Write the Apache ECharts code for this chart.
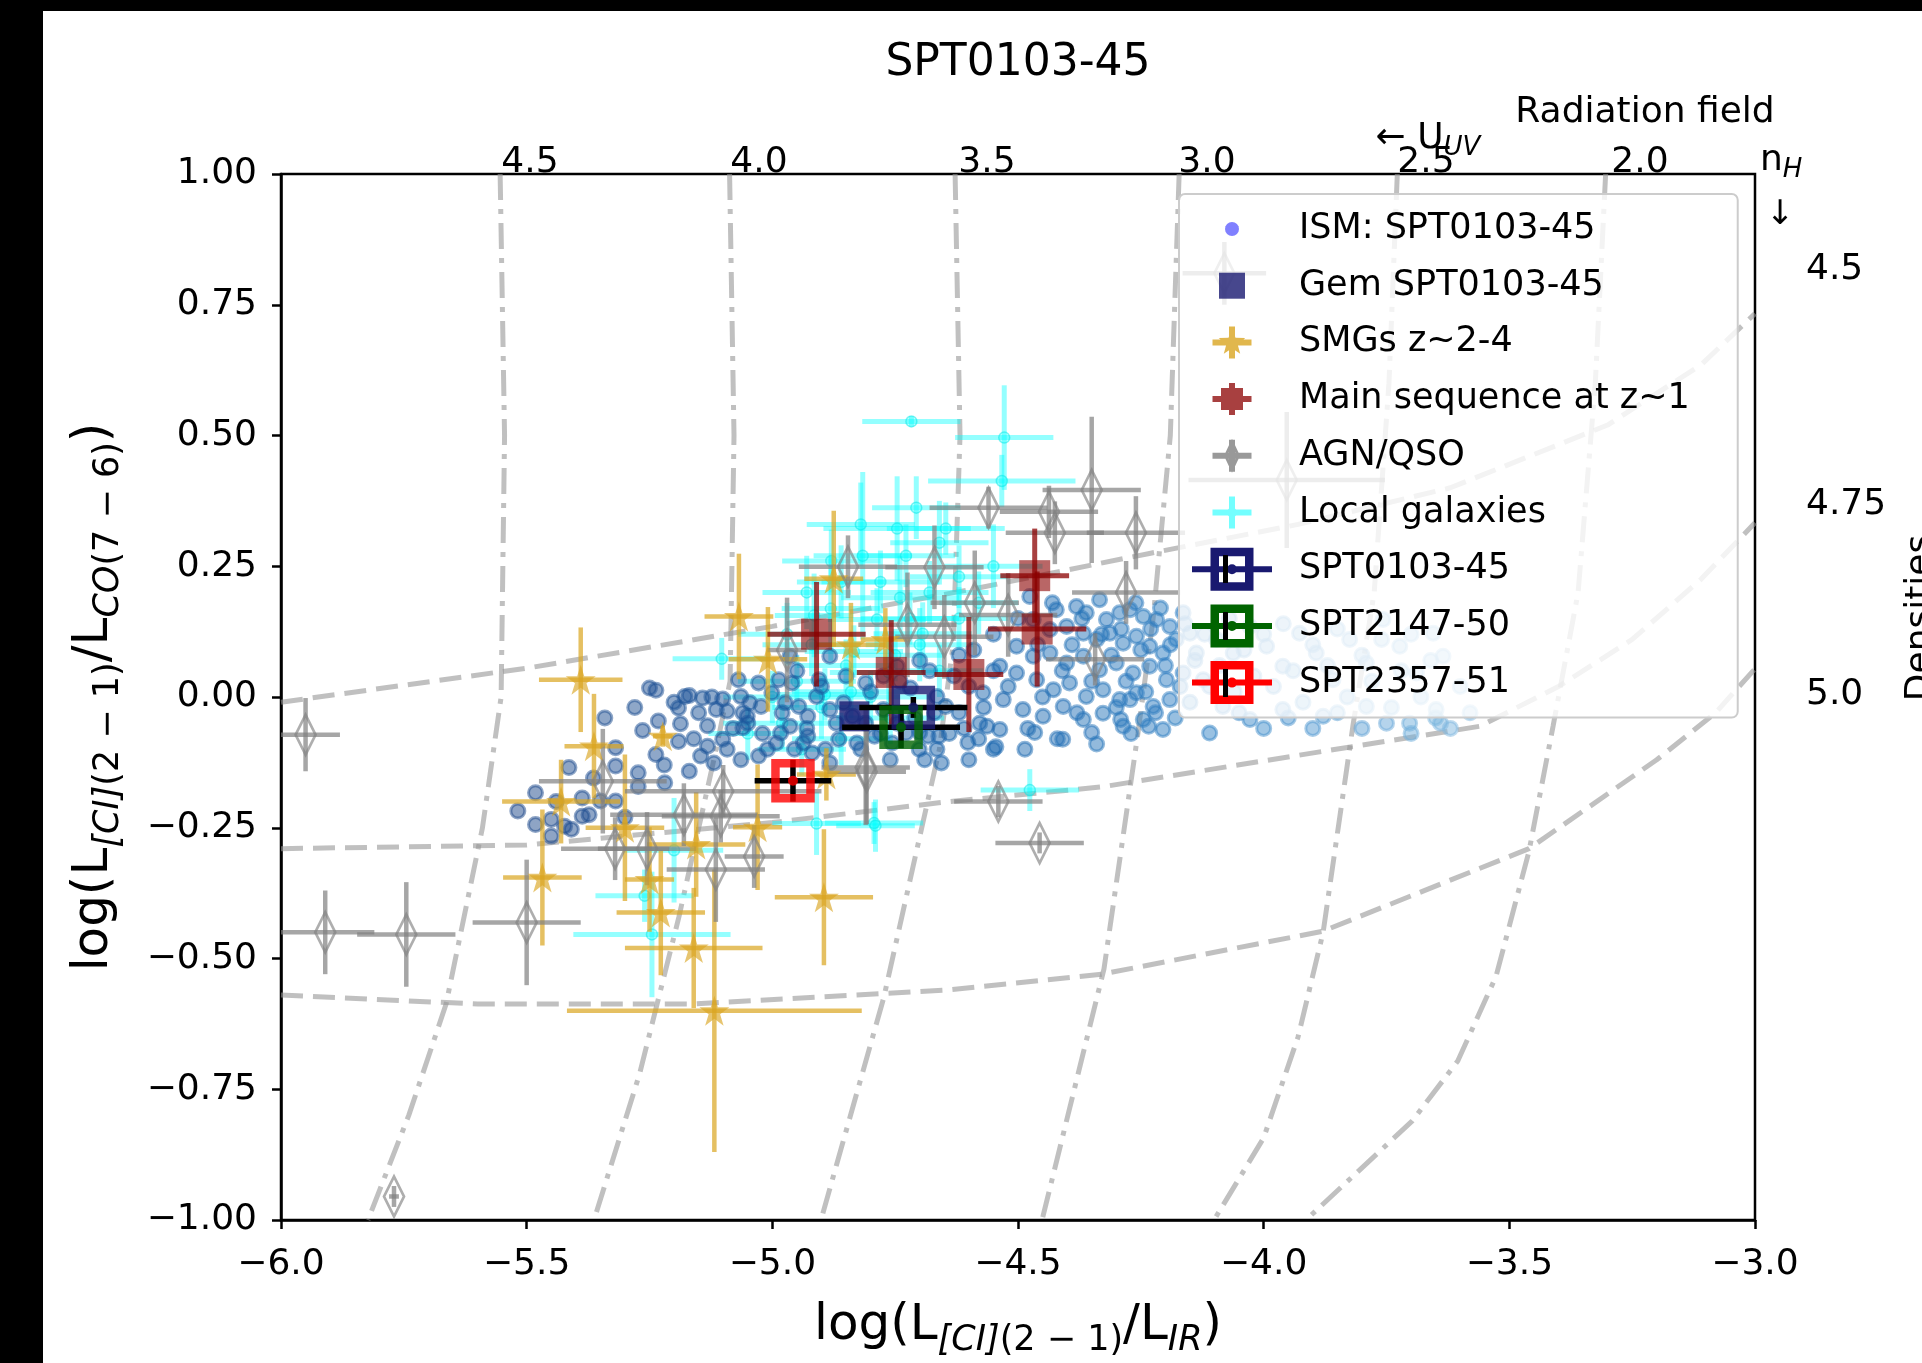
<!DOCTYPE html>
<html>
<head>
<meta charset="utf-8">
<script src="https://cdn.jsdelivr.net/npm/echarts@6.0.0/dist/echarts.min.js"></script>
<style>
html, body { margin: 0; padding: 0; background: #000; }
#main { width: 1922px; height: 1363px; }
</style>
</head>
<body>
<div id="main"></div>
<script>
// ---- model grid (constant U_UV: dash-dot, constant n_H: dashed) ----
var uv45 = [[-5.554, 1], [-5.545, 0.5], [-5.552, 0.0], [-5.59, -0.25], [-5.664, -0.587], [-5.74, -0.8], [-5.823, -1]];
var uv40 = [[-5.087, 1], [-5.078, 0.5], [-5.086, 0.03], [-5.119, -0.12], [-5.19, -0.42], [-5.27, -0.72], [-5.363, -1]];
var uv35 = [[-4.628, 1], [-4.618, 0.5], [-4.632, 0.1], [-4.66, -0.1], [-4.70, -0.267], [-4.773, -0.574], [-4.901, -1]];
var uv30 = [[-4.172, 1], [-4.19, 0.5], [-4.225, 0.15], [-4.256, -0.07], [-4.325, -0.52], [-4.451, -1]];
var uv25 = [[-3.728, 1], [-3.745, 0.6], [-3.775, 0.2], [-3.818, -0.053], [-3.879, -0.45], [-3.93, -0.65], [-4.0, -0.843], [-4.101, -1]];
var uv20 = [[-3.304, 1], [-3.325, 0.6], [-3.36, 0.2], [-3.411, -0.056], [-3.46, -0.295], [-3.527, -0.534], [-3.605, -0.696], [-3.698, -0.811], [-3.914, -1]];
var nh45 = [[-6, -0.01], [-5.5, 0.055], [-5.0, 0.135], [-4.6, 0.205], [-4.23, 0.275], [-3.93, 0.33], [-3.62, 0.40], [-3.3, 0.52], [-3.11, 0.635], [-3.0, 0.733]];
var nh475 = [[-6, -0.29], [-5.5, -0.283], [-5.0, -0.24], [-4.64, -0.2], [-4.33, -0.172], [-3.82, -0.095], [-3.56, -0.056], [-3.4, 0.02], [-3.25, 0.11], [-3.11, 0.225], [-3.0, 0.333]];
var nh50 = [[-6, -0.57], [-5.6, -0.587], [-5.16, -0.587], [-4.64, -0.56], [-4.33, -0.53], [-3.88, -0.448], [-3.46, -0.29], [-3.2, -0.12], [-3.08, -0.03], [-3.0, 0.054]];

// ---- ISM clumps of SPT0103-45: [x, y] ----
var ismPoints = [
  [-5.250, 0.017], [-5.237, 0.013], [-5.178, 0.001], [-5.169, 0.003], [-5.191, -0.021], [-5.142, -0.002], [-5.123, 0.000], [-5.101, -0.004], [-5.069, 0.033], [-5.341, -0.040],
  [-5.232, -0.046], [-5.264, -0.064], [-5.187, -0.051], [-5.132, -0.055], [-5.114, -0.024], [-5.092, -0.027], [-5.060, -0.030], [-5.060, -0.059], [-5.051, -0.037], [-5.191, -0.085],
  [-5.237, -0.110], [-5.319, -0.097], [-5.319, -0.132], [-5.273, -0.145], [-5.414, -0.135], [-5.364, -0.155], [-5.219, -0.164], [-5.169, -0.142], [-5.146, -0.113], [-5.132, -0.094],
  [-5.119, -0.126], [-5.101, -0.081], [-5.092, -0.100], [-5.064, -0.120], [-5.046, -0.011], [-5.023, -0.018], [-5.482, -0.183], [-5.518, -0.218], [-5.482, -0.244], [-5.450, -0.234],
  [-5.450, -0.266], [-5.423, -0.247], [-5.409, -0.253], [-5.387, -0.193], [-5.387, -0.228], [-5.373, -0.225], [-5.350, -0.199], [-5.319, -0.199], [-5.273, -0.171], [-5.028, -0.113],
  [-5.010, -0.100], [-4.992, -0.088], [-4.983, -0.069], [-4.964, -0.056], [-4.955, -0.100], [-4.937, -0.088], [-4.928, -0.075], [-4.919, -0.107], [-4.892, -0.100], [-4.883, -0.126],
  [-4.964, 0.078], [-4.960, 0.027], [-4.987, 0.033], [-4.905, 0.033], [-4.946, -0.018], [-4.928, -0.037], [-4.883, -0.024], [-4.855, -0.011], [-4.837, -0.037], [-4.810, -0.050],
  [-4.774, -0.024], [-4.746, -0.050], [-4.728, -0.069], [-4.683, -0.075], [-4.665, -0.100], [-4.656, -0.126], [-4.701, -0.100], [-4.756, -0.088], [-4.792, -0.075], [-4.828, -0.088],
  [-4.865, -0.081], [-5.064, 0.001], [-5.028, 0.027], [-5.001, 0.008], [-4.974, -0.011], [-4.910, 0.001], [-4.883, 0.078], [-4.746, 0.059], [-4.774, 0.040], [-4.810, 0.027],
  [-4.665, 0.001], [-4.647, -0.018], [-4.719, 0.017],
  [-4.62, -0.03], [-4.60, 0.02], [-4.58, -0.08], [-4.55, 0.05], [-4.62, 0.08], [-4.68, 0.05], [-4.60, -0.12], [-4.55, -0.10],
  [-4.98, -0.03], [-4.95, 0.05], [-4.93, -0.06], [-4.90, 0.02], [-4.87, -0.05], [-4.85, 0.04], [-4.82, -0.10], [-4.80, 0.01], [-4.78, -0.07], [-4.76, -0.12],
  [-4.74, 0.03], [-4.71, -0.04], [-4.69, -0.12], [-4.67, -0.03], [-4.64, -0.07], [-4.63, 0.04], [-4.61, -0.06], [-4.59, 0.09], [-4.57, -0.02], [-4.70, 0.07],
  [-5.05, -0.05], [-5.08, -0.06], [-5.02, -0.07], [-5.15, -0.03], [-5.20, -0.01], [-5.28, -0.02], [-5.22, -0.13], [-5.16, -0.08], [-5.30, -0.23], [-5.44, -0.20],
  [-4.476, 0.192], [-4.422, 0.167], [-4.381, 0.173], [-4.361, 0.161], [-4.334, 0.186], [-4.320, 0.148], [-4.293, 0.161], [-4.272, 0.167], [-4.245, 0.154], [-4.218, 0.148],
  [-4.191, 0.135], [-4.164, 0.161], [-4.469, 0.148], [-4.435, 0.129], [-4.401, 0.135], [-4.367, 0.122], [-4.340, 0.110], [-4.313, 0.122], [-4.286, 0.103], [-4.259, 0.116],
  [-4.232, 0.097], [-4.205, 0.084], [-4.178, 0.110], [-4.503, 0.097], [-4.469, 0.078], [-4.435, 0.084], [-4.401, 0.065], [-4.367, 0.078], [-4.334, 0.052], [-4.300, 0.065],
  [-4.266, 0.046], [-4.232, 0.059], [-4.198, 0.033], [-4.164, 0.046], [-4.537, 0.059], [-4.503, 0.046], [-4.462, 0.033], [-4.428, 0.014], [-4.395, 0.027], [-4.361, 0.001],
  [-4.327, 0.014], [-4.293, -0.005], [-4.259, 0.008], [-4.225, -0.018], [-4.191, -0.005], [-4.571, 0.008], [-4.530, -0.005], [-4.490, -0.024], [-4.449, -0.037], [-4.408, -0.018],
  [-4.367, -0.043], [-4.327, -0.031], [-4.286, -0.056], [-4.245, -0.043], [-4.205, -0.062], [-4.578, -0.050], [-4.537, -0.062],
  [-4.545, -0.095], [-4.486, -0.100], [-4.466, -0.068], [-4.409, -0.081], [-4.350, -0.068], [-4.602, -0.087], [-4.661, -0.075], [-4.700, -0.068], [-4.563, -0.056], [-4.291, -0.043],
  [-4.234, -0.056], [-4.272, -0.005],
  [-4.55, 0.12], [-4.52, 0.02], [-4.50, 0.15], [-4.48, -0.06], [-4.46, 0.10], [-4.45, 0.00], [-4.43, 0.18], [-4.42, -0.08], [-4.41, 0.05], [-4.39, 0.10],
  [-4.38, -0.03], [-4.37, 0.15], [-4.35, 0.03], [-4.34, -0.09], [-4.33, 0.12], [-4.31, 0.08], [-4.30, -0.02], [-4.29, 0.13], [-4.28, 0.03], [-4.27, -0.07],
  [-4.26, 0.18], [-4.25, 0.09], [-4.24, 0.01], [-4.23, 0.13], [-4.22, -0.03], [-4.21, 0.17], [-4.20, 0.06], [-4.19, 0.10], [-4.18, -0.04], [-4.17, 0.02],
  [-4.16, 0.14], [-4.15, -0.01], [-4.14, 0.07], [-4.12, 0.12], [-4.11, 0.02], [-4.09, 0.06], [-4.07, 0.15], [-4.06, 0.01], [-4.04, 0.09], [-4.02, 0.04],
  [-4.150, 0.122], [-4.137, 0.084], [-4.123, 0.033], [-4.096, 0.110], [-4.062, 0.084], [-4.028, 0.135], [-3.994, 0.097], [-3.961, 0.059], [-3.927, 0.122], [-3.893, 0.084],
  [-3.859, 0.033], [-3.825, 0.110], [-3.791, 0.065], [-3.757, 0.148], [-3.723, 0.097], [-3.689, 0.046], [-3.655, 0.122], [-3.635, 0.078], [-4.083, -0.018], [-4.028, -0.043],
  [-3.961, -0.024], [-3.879, -0.037], [-3.791, -0.018], [-3.703, -0.050], [-3.649, -0.024], [-4.110, -0.069],
  [-4.00, 0.12], [-3.98, 0.02], [-3.96, 0.14], [-3.94, 0.05], [-3.92, -0.01], [-3.90, 0.10], [-3.87, 0.06], [-3.85, 0.13], [-3.83, 0.00], [-3.80, 0.08],
  [-3.78, 0.03], [-3.76, 0.11], [-3.74, -0.02], [-3.72, 0.05], [-3.70, 0.12], [-3.68, 0.00], [-3.66, 0.07], [-3.64, -0.05], [-3.60, 0.02], [-3.58, -0.03],
  [-3.95, -0.04], [-3.90, -0.06], [-3.85, -0.03], [-3.80, -0.06], [-3.75, -0.05], [-3.70, -0.07], [-3.65, -0.04], [-3.62, -0.06], [-4.00, -0.06], [-4.05, -0.03]
];

// ---- comparison samples: [x, y, xerr, yerr] ----
var gemPoints = [[-4.833, -0.037]];
var smgPoints = [
  [-5.39, 0.033, 0.085, 0.10], [-5.363, -0.094, 0.06, 0.10], [-5.223, -0.075, 0.02, 0.02], [-5.43, -0.20, 0.12, 0.08],
  [-5.30, -0.25, 0.08, 0.14], [-5.468, -0.345, 0.08, 0.13], [-5.155, -0.282, 0.10, 0.10], [-5.03, -0.249, 0.05, 0.12],
  [-5.25, -0.349, 0.05, 0.10], [-5.227, -0.412, 0.09, 0.12], [-4.895, -0.383, 0.10, 0.13], [-4.89, -0.148, 0.06, 0.05],
  [-5.16, -0.48, 0.14, 0.115], [-5.118, -0.60, 0.30, 0.27], [-5.068, 0.154, 0.07, 0.12], [-5.009, 0.072, 0.08, 0.10],
  [-4.875, 0.226, 0.06, 0.13], [-4.84, 0.10, 0.07, 0.08], [-4.77, 0.11, 0.05, 0.06]
];
var msPoints = [
  [-4.91, 0.12, 0.10, 0.10], [-4.758, 0.047, 0.07, 0.10], [-4.60, 0.043, 0.07, 0.11], [-4.466, 0.232, 0.07, 0.09], [-4.461, 0.13, 0.10, 0.11]
];
var agnPoints = [
  [-5.95, -0.072, 0.07, 0.07], [-5.91, -0.45, 0.10, 0.08], [-5.745, -0.454, 0.10, 0.10], [-5.50, -0.431, 0.11, 0.12],
  [-5.77, -0.955, 0.01, 0.02], [-5.345, -0.161, 0.13, 0.10], [-5.18, -0.225, 0.15, 0.06], [-5.10, -0.18, 0.20, 0.05],
  [-5.105, -0.228, 0.12, 0.05], [-5.32, -0.29, 0.11, 0.06], [-5.255, -0.29, 0.10, 0.07], [-5.115, -0.33, 0.10, 0.10],
  [-5.037, -0.305, 0.06, 0.06], [-4.81, -0.135, 0.09, 0.11], [-4.846, 0.249, 0.10, 0.06], [-4.97, 0.09, 0.04, 0.10],
  [-4.56, 0.362, 0.12, 0.04], [-4.437, 0.354, 0.10, 0.05], [-4.425, 0.314, 0.10, 0.06], [-4.35, 0.396, 0.10, 0.14],
  [-4.26, 0.314, 0.10, 0.07], [-4.28, 0.20, 0.11, 0.06], [-4.343, 0.072, 0.10, 0.05], [-4.52, 0.157, 0.10, 0.08],
  [-4.588, 0.18, 0.09, 0.10], [-4.67, 0.248, 0.10, 0.08], [-4.725, 0.138, 0.10, 0.10], [-4.808, -0.143, 0.08, 0.10],
  [-4.54, -0.20, 0.09, 0.03], [-4.456, -0.279, 0.09, 0.02], [-3.953, 0.415, 0.20, 0.13], [-4.08, 0.81, 0.085, 0.06],
  [-4.65, 0.115, 0.10, 0.08]
];
var localPoints = [
  [-4.717, 0.527, 0.10, 0.01], [-4.528, 0.496, 0.10, 0.10], [-4.533, 0.413, 0.15, 0.05], [-4.707, 0.362, 0.09, 0.06],
  [-4.746, 0.322, 0.15, 0.10], [-4.647, 0.322, 0.12, 0.05], [-4.816, 0.27, 0.10, 0.16], [-4.728, 0.27, 0.10, 0.06],
  [-4.66, 0.295, 0.10, 0.08], [-4.74, 0.19, 0.12, 0.08], [-4.881, 0.169, 0.10, 0.10], [-4.915, 0.156, 0.08, 0.08],
  [-4.787, 0.148, 0.10, 0.06], [-4.694, 0.121, 0.10, 0.06], [-5.103, 0.073, 0.10, 0.04], [-4.834, 0.087, 0.10, 0.05],
  [-4.763, 0.047, 0.12, 0.06], [-4.893, 0.005, 0.10, 0.05], [-4.62, 0.23, 0.10, 0.06], [-4.58, 0.18, 0.08, 0.06],
  [-4.55, 0.25, 0.10, 0.08], [-4.68, 0.20, 0.12, 0.06], [-4.476, -0.178, 0.10, 0.04], [-4.793, -0.241, 0.10, 0.04],
  [-4.91, -0.242, 0.09, 0.06], [-4.79, -0.246, 0.08, 0.05], [-5.245, -0.454, 0.16, 0.12], [-5.26, -0.38, 0.10, 0.05],
  [-5.20, -0.293, 0.10, 0.10], [-4.95, 0.03, 0.12, 0.05], [-4.90, -0.02, 0.10, 0.06], [-4.85, 0.06, 0.10, 0.05],
  [-4.80, 0.00, 0.12, 0.05], [-4.75, 0.08, 0.10, 0.05], [-4.98, -0.05, 0.12, 0.05], [-5.05, -0.07, 0.08, 0.05],
  [-4.86, 0.22, 0.09, 0.07], [-4.70, 0.10, 0.11, 0.07], [-4.84, 0.01, 0.12, 0.05], [-4.92, 0.10, 0.10, 0.06],
  [-4.97, 0.12, 0.10, 0.06], [-4.93, 0.20, 0.09, 0.07], [-4.88, 0.26, 0.10, 0.06], [-4.82, 0.33, 0.11, 0.08],
  [-4.78, 0.22, 0.12, 0.06], [-4.72, 0.15, 0.10, 0.05], [-4.66, 0.05, 0.09, 0.05], [-4.62, 0.15, 0.10, 0.06],
  [-4.86, -0.08, 0.10, 0.05], [-4.76, -0.04, 0.11, 0.05], [-5.00, 0.00, 0.10, 0.05], [-4.94, -0.10, 0.09, 0.05]
];
var spt0103 = [[-4.713, -0.02, 0.11, 0.02]];
var spt2147 = [[-4.738, -0.058, 0.12, 0.04]];
var spt2357 = [[-4.958, -0.16, 0.078, 0.04]];

var uvTickLabels = ['4.5', '4.0', '3.5', '3.0', '2.5', '2.0'];
var nhTickLabels = ['4.5', '4.75', '5.0'];

var FONT = 'DejaVu Sans';
var chart = echarts.init(document.getElementById('main'));

function modelLine(name, pts, dash) {
  return {
    type: 'line', name: name, data: pts, symbol: 'none', silent: true, z: 1, clip: true,
    lineStyle: { color: 'rgba(150,150,150,0.6)', width: 5, type: dash }
  };
}

function errSeries(name, rows, color, width, z) {
  return {
    type: 'custom', name: name, z: z, clip: true, silent: true,
    data: rows,
    encode: { x: 0, y: 1 },
    renderItem: function (params, api) {
      var x = api.value(0), y = api.value(1), dx = api.value(2), dy = api.value(3);
      var a = api.coord([x - dx, y]), b = api.coord([x + dx, y]);
      var c = api.coord([x, y - dy]), d = api.coord([x, y + dy]);
      var st = { stroke: color, lineWidth: width };
      return {
        type: 'group', children: [
          { type: 'line', shape: { x1: a[0], y1: a[1], x2: b[0], y2: b[1] }, style: st },
          { type: 'line', shape: { x1: c[0], y1: c[1], x2: d[0], y2: d[1] }, style: st }
        ]
      };
    }
  };
}

// blue ramp for the ISM points (darker on the left)
var ismStops = [[-5.5, [30, 72, 138]], [-4.6, [25, 100, 172]], [-4.1, [52, 132, 198]], [-3.6, [130, 186, 225]]];
function ismColor(x) {
  if (x <= ismStops[0][0]) return 'rgb(' + ismStops[0][1].join(',') + ')';
  for (var i = 1; i < ismStops.length; i++) {
    if (x <= ismStops[i][0]) {
      var t = (x - ismStops[i - 1][0]) / (ismStops[i][0] - ismStops[i - 1][0]);
      var c = ismStops[i - 1][1].map(function (v, k) { return Math.round(v + t * (ismStops[i][1][k] - v)); });
      return 'rgb(' + c.join(',') + ')';
    }
  }
  return 'rgb(' + ismStops[ismStops.length - 1][1].join(',') + ')';
}

var starPath = 'path://M50,0 L61.2,34.5 L97.6,34.5 L68.2,55.9 L79.4,90.5 L50,69.1 L20.6,90.5 L31.8,55.9 L2.4,34.5 L38.8,34.5 Z';

// legend icons, all in a 115x50 box (the two leading moves fix the box)
var BOX = 'path://M0,0 M115,50 ';
var CROSS = 'M33.5,22 L72.5,22 L72.5,28 L33.5,28 Z M50,9 L56,9 L56,41 L50,41 Z ';
var DOT7 = 'M60,25 L59.47,27.68 L57.95,29.95 L55.68,31.47 L53,32 L50.32,31.47 L48.05,29.95 L46.53,27.68 L46,25 L46.53,22.32 L48.05,20.05 L50.32,18.53 L53,18 L55.68,18.53 L57.95,20.05 L59.47,22.32 Z';
var icons = {
  ism: BOX + DOT7,
  gem: BOX + 'M40,12 L66,12 L66,38 L40,38 Z',
  smg: BOX + CROSS + 'M53,11 L56.5,20.3 L66.3,20.7 L58.6,26.9 L61.2,36.3 L53,30.9 L44.8,36.3 L47.4,26.9 L39.7,20.7 L49.5,20.3 Z',
  ms: BOX + CROSS + 'M42,14 L64,14 L64,36 L42,36 Z',
  agn: BOX + CROSS + 'M53,8 L61,25 L53,42 L45,25 Z M53,13.5 L48.5,25 L53,36.5 L57.5,25 Z',
  local: BOX + CROSS + 'M58,25 A5,5 0 1 1 48,25 A5,5 0 1 1 58,25 Z',
  spt: BOX + 'M13,22 L93,22 L93,28 L13,28 Z M31.5,3.5 L74.5,3.5 L74.5,46.5 L31.5,46.5 Z M40,12 L40,38 L66,38 L66,12 Z M58,25 A5,5 0 1 1 48,25 A5,5 0 1 1 58,25 Z'
};

var series = [
  modelLine('U4.5', uv45, [26, 9, 5, 9]),
  modelLine('U4.0', uv40, [26, 9, 5, 9]),
  modelLine('U3.5', uv35, [26, 9, 5, 9]),
  modelLine('U3.0', uv30, [26, 9, 5, 9]),
  modelLine('U2.5', uv25, [26, 9, 5, 9]),
  modelLine('U2.0', uv20, [26, 9, 5, 9]),
  modelLine('n4.5', nh45, [22, 10]),
  modelLine('n4.75', nh475, [22, 10]),
  modelLine('n5.0', nh50, [22, 10]),

  errSeries('Local galaxies', localPoints, 'rgba(0,255,255,0.42)', 5, 2),
  {
    type: 'scatter', name: 'Local galaxies', z: 2, symbol: 'circle', symbolSize: 11,
    data: localPoints.map(function (p) { return [p[0], p[1]]; }),
    itemStyle: { color: 'rgba(0,255,255,0.3)', borderColor: 'rgba(0,230,230,0.6)', borderWidth: 1.5 }
  },
  {
    type: 'scatter', name: 'ISM: SPT0103-45', z: 3, symbol: 'circle', symbolSize: 14,
    data: ismPoints.map(function (p) {
      var c = ismColor(p[0]);
      return { value: p, itemStyle: { color: c, borderColor: c, opacity: 0.5 } };
    }),
    itemStyle: { borderWidth: 3 }
  },
  errSeries('SMGs z~2-4', smgPoints, 'rgba(218,165,32,0.7)', 4.5, 4),
  {
    type: 'scatter', name: 'SMGs z~2-4', z: 4, symbol: starPath, symbolSize: 30,
    data: smgPoints.map(function (p) { return [p[0], p[1]]; }),
    itemStyle: { color: 'rgba(218,165,32,0.8)' }
  },
  errSeries('AGN/QSO', agnPoints, 'rgba(128,128,128,0.7)', 4.5, 4),
  {
    type: 'scatter', name: 'AGN/QSO', z: 4, symbol: 'diamond', symbolSize: [20, 40],
    data: agnPoints.map(function (p) { return [p[0], p[1]]; }),
    itemStyle: { color: 'rgba(255,255,255,0)', borderColor: 'rgba(128,128,128,0.8)', borderWidth: 3 }
  },
  errSeries('Main sequence at z~1', msPoints, 'rgba(139,0,0,0.75)', 5, 5),
  {
    type: 'scatter', name: 'Main sequence at z~1', z: 5, symbol: 'rect', symbolSize: 31,
    data: msPoints.map(function (p) { return [p[0], p[1]]; }),
    itemStyle: { color: 'rgba(139,0,0,0.75)' }
  },
  {
    type: 'scatter', name: 'Gem SPT0103-45', z: 6, symbol: 'rect', symbolSize: 30,
    data: gemPoints, itemStyle: { color: '#191970' }
  }
];

[['SPT0103-45', spt0103, '#191970'], ['SPT2147-50', spt2147, '#006400'], ['SPT2357-51', spt2357, '#ff0000']].forEach(function (s) {
  series.push(errSeries(s[0], s[1], '#000', 5.5, 7));
  series.push({
    type: 'scatter', name: s[0], z: 8, symbol: 'rect', symbolSize: 35,
    data: s[1].map(function (p) { return [p[0], p[1]]; }),
    itemStyle: { color: 'rgba(255,255,255,0)', borderColor: s[2], borderWidth: 8.5 }
  });
  series.push({
    type: 'scatter', name: s[0], z: 9, symbol: 'circle', symbolSize: 10,
    data: s[1].map(function (p) { return [p[0], p[1]]; }),
    itemStyle: { color: s[2] }
  });
});

function minus(s) { return s.replace('-', '\u2212'); }

var nameRich = {
  m: { fontSize: 50, fontFamily: FONT, color: '#000', lineHeight: 64 },
  s: { fontSize: 35, fontFamily: FONT, color: '#000', lineHeight: 64, verticalAlign: 'bottom' },
  si: { fontSize: 35, fontFamily: FONT, fontStyle: 'italic', color: '#000', lineHeight: 64, verticalAlign: 'bottom' }
};
var annRich = {
  m: { fontSize: 36, fontFamily: FONT, color: '#000', lineHeight: 44 },
  si: { fontSize: 26, fontFamily: FONT, fontStyle: 'italic', color: '#000', lineHeight: 44, verticalAlign: 'bottom' }
};

var uvLabelX = [530, 759, 987, 1207, 1426, 1640];
var nhLabelY = [270, 505, 695];
var sptLegendY = [569, 626, 683];

function txt(x, y, t, size, align) {
  return { type: 'text', x: x, y: y, z: 20, style: { text: t, font: size + 'px "DejaVu Sans"', fill: '#000', align: align, verticalAlign: 'middle', textAlign: align, textVerticalAlign: 'middle' } };
}

var graphics = [
  txt(1018, 64, 'SPT0103-45', 44, 'center'),
  txt(1645, 113, 'Radiation field', 36, 'center'),
  { type: 'text', x: 1428, y: 139, z: 20, style: { text: '{m|\u2190 U}{si|UV}', rich: annRich, align: 'center', verticalAlign: 'middle', textAlign: 'center', textVerticalAlign: 'middle' } },
  { type: 'text', x: 1760, y: 161, z: 20, style: { text: '{m|n}{si|H}', rich: annRich, align: 'left', verticalAlign: 'middle', textAlign: 'left', textVerticalAlign: 'middle' } },
  txt(1780, 215, '\u2193', 34, 'center'),
  { type: 'text', x: 1921, y: 618, z: 20, rotation: Math.PI / 2, style: { text: 'Densities', font: '36px "DejaVu Sans"', fill: '#000', align: 'center', verticalAlign: 'middle', textAlign: 'center', textVerticalAlign: 'middle' } },
  { type: 'rect', z: 30, shape: { x: 0, y: 0, width: 43, height: 1363 }, style: { fill: '#000' } },
  { type: 'rect', z: 30, shape: { x: 0, y: 0, width: 1922, height: 11 }, style: { fill: '#000' } }
];
uvTickLabels.forEach(function (t, i) { graphics.push(txt(uvLabelX[i], 163, t, 36, 'center')); });
nhTickLabels.forEach(function (t, i) { graphics.push(txt(1806, nhLabelY[i], t, 36, 'left')); });
// black y-error stroke inside the SPT legend handles
sptLegendY.forEach(function (y) {
  graphics.push({ type: 'rect', z: 40, shape: { x: 1223, y: y - 14, width: 5, height: 28 }, style: { fill: '#000' } });
});

var option = {
  backgroundColor: '#ffffff',
  animation: false,
  textStyle: { fontFamily: FONT },
  grid: { left: 281, top: 174, width: 1474, height: 1047, show: true, borderColor: '#000', borderWidth: 2.5, backgroundColor: 'rgba(0,0,0,0)' },
  xAxis: {
    type: 'value', min: -6, max: -3, interval: 0.5,
    axisLine: { show: true, onZero: false, lineStyle: { color: '#000', width: 2.5 } },
    axisTick: { show: true, length: 9, lineStyle: { color: '#000', width: 2.5 } },
    axisLabel: { fontSize: 36, color: '#000', fontFamily: FONT, margin: 27, formatter: function (v) { return minus(v.toFixed(1)); } },
    splitLine: { show: false },
    name: '{m|log(L}{si|[CI]}{s|(2 \u2212 1)}{m|/L}{si|IR}{m|)}',
    nameLocation: 'middle', nameGap: 74,
    nameTextStyle: { rich: nameRich }
  },
  yAxis: {
    type: 'value', min: -1, max: 1, interval: 0.25,
    axisLine: { show: true, onZero: false, lineStyle: { color: '#000', width: 2.5 } },
    axisTick: { show: true, length: 9, lineStyle: { color: '#000', width: 2.5 } },
    axisLabel: { fontSize: 36, color: '#000', fontFamily: FONT, margin: 24, formatter: function (v) { return minus(v.toFixed(2)); } },
    splitLine: { show: false },
    name: '{m|log(L}{si|[CI]}{s|(2 \u2212 1)}{m|/L}{si|CO}{s|(7 \u2212 6)}{m|)}',
    nameLocation: 'middle', nameGap: 155,
    nameTextStyle: { rich: nameRich }
  },
  legend: {
    orient: 'vertical', left: 1179, top: 194, z: 20,
    padding: [10, 48, 10, 0], itemWidth: 115, itemHeight: 50, itemGap: 6.7,
    backgroundColor: 'rgba(255,255,255,0.8)', borderColor: '#cccccc', borderWidth: 2, borderRadius: 6,
    selectedMode: false,
    textStyle: { fontSize: 35, fontFamily: FONT, color: '#000' },
    data: [
      { name: 'ISM: SPT0103-45', icon: icons.ism, itemStyle: { color: 'rgba(85,85,255,0.75)', borderWidth: 0, opacity: 1 } },
      { name: 'Gem SPT0103-45', icon: icons.gem, itemStyle: { color: '#191970', borderWidth: 0 } },
      { name: 'SMGs z~2-4', icon: icons.smg, itemStyle: { color: 'rgba(218,165,32,0.8)', borderWidth: 0 } },
      { name: 'Main sequence at z~1', icon: icons.ms, itemStyle: { color: 'rgba(139,0,0,0.75)', borderWidth: 0 } },
      { name: 'AGN/QSO', icon: icons.agn, itemStyle: { color: 'rgba(128,128,128,0.8)', borderWidth: 0 } },
      { name: 'Local galaxies', icon: icons.local, itemStyle: { color: 'rgba(0,255,255,0.55)', borderWidth: 0 } },
      { name: 'SPT0103-45', icon: icons.spt, itemStyle: { color: '#191970', borderWidth: 0 } },
      { name: 'SPT2147-50', icon: icons.spt, itemStyle: { color: '#006400', borderWidth: 0 } },
      { name: 'SPT2357-51', icon: icons.spt, itemStyle: { color: '#ff0000', borderWidth: 0 } }
    ]
  },
  graphic: graphics,
  series: series
};

chart.setOption(option);
</script>
</body>
</html>
